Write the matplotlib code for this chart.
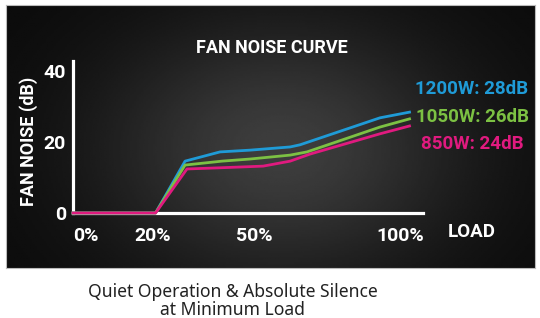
import numpy as np
import matplotlib
matplotlib.use('Agg')
import matplotlib.pyplot as plt

# load (%) and fan noise (dB)
load_1200 = [-6, 20, 29.3, 40.3, 49.8, 62.4, 65.5, 90.7, 100]
noise_1200 = [0, 0, 14.6, 17.2, 17.7, 18.6, 19.2, 26.8, 28.4]
load_1050 = [-6, 20, 29.3, 40.9, 49.8, 62.4, 67.7, 90.7, 100]
noise_1050 = [0, 0, 13.5, 14.6, 15.2, 16.3, 17.2, 24.2, 26.5]
load_850 = [-6, 20, 29.9, 39.4, 53.9, 62.4, 68.7, 90.7, 100]
noise_850 = [0, 0, 12.4, 12.7, 13.2, 14.6, 16.6, 22.3, 24.5]

series_labels = ['1200W: 28dB', '1050W: 26dB', '850W: 24dB']
series_colors = ['#1f9bd7', '#7cc143', '#e01a7f']

x_tick_pos = [-2, 19, 51, 97]
x_tick_labels = ['0%', '20%', '50%', '100%']
y_ticks = [0, 20, 40]

W, H = 540, 318
fig = plt.figure(figsize=(W / 100, H / 100), dpi=100, facecolor='white')


def fx(px):
    return px / W


def fy(py):
    return 1 - py / H


# chalkboard panel
bg = fig.add_axes([fx(6), fy(268), fx(535) - fx(6), fy(5) - fy(268)])
gx, gy = np.meshgrid(np.linspace(0, 1, 300), np.linspace(0, 1, 150))
shade = 0.04 + 0.2 * np.exp(-((gx - 0.52) ** 2 / 0.12 + (gy - 0.55) ** 2 / 0.25))
bg.imshow(shade, cmap='gray', vmin=0, vmax=1, aspect='auto', extent=[0, 1, 0, 1])
bg.set_xticks([])
bg.set_yticks([])
for s in bg.spines.values():
    s.set_color('#bbbbbb')
    s.set_linewidth(0.8)

font = 'Roboto'
ax = fig.add_axes([fx(73), fy(213), fx(423) - fx(73), fy(61) - fy(213)])
ax.patch.set_alpha(0)
for load, noise, c in zip([load_1200, load_1050, load_850],
                          [noise_1200, noise_1050, noise_850], series_colors):
    ax.plot(load, noise, color=c, lw=2.0, zorder=3, clip_on=False)

ax.set_xlim(-6, 104.25)
ax.set_ylim(0, 42.8)
for side in ['top', 'right']:
    ax.spines[side].set_visible(False)
for side in ['left', 'bottom']:
    ax.spines[side].set_color('white')
    ax.spines[side].set_linewidth(2.3)

ax.set_xticks(x_tick_pos)
ax.set_xticklabels(x_tick_labels)
ax.set_yticks(y_ticks)
ax.tick_params(length=0, colors='white', labelsize=14)
ax.tick_params(axis='x', pad=10)
ax.tick_params(axis='y', pad=5)
for lab in ax.get_xticklabels() + ax.get_yticklabels():
    lab.set_fontfamily(font)
    lab.set_fontweight('bold')

fig.text(fx(472), fy(232), 'LOAD', color='white', fontsize=13.5, fontweight='bold',
         family=font, ha='center', va='center')
fig.text(fx(29), fy(141), 'FAN NOISE (dB)', color='white', fontsize=13, fontweight='bold',
         family=font, ha='center', va='center', rotation=90)
fig.text(fx(272), fy(48), 'FAN NOISE CURVE', color='white', fontsize=13, fontweight='bold',
         family=font, ha='center', va='center')

label_y = [89, 117, 144]
for lab, c, py in zip(series_labels, series_colors, label_y):
    fig.text(fx(472), fy(py), lab, color=c, fontsize=13.5, fontweight='bold',
             family=font, ha='center', va='center')

fig.text(fx(233), fy(301), 'Quiet Operation & Absolute Silence\nat Minimum Load',
         color='#222222', fontsize=12.6, family='Noto Sans', ha='center', va='center',
         linespacing=0.95)

fig.savefig('out.png', dpi=100, facecolor='white')
